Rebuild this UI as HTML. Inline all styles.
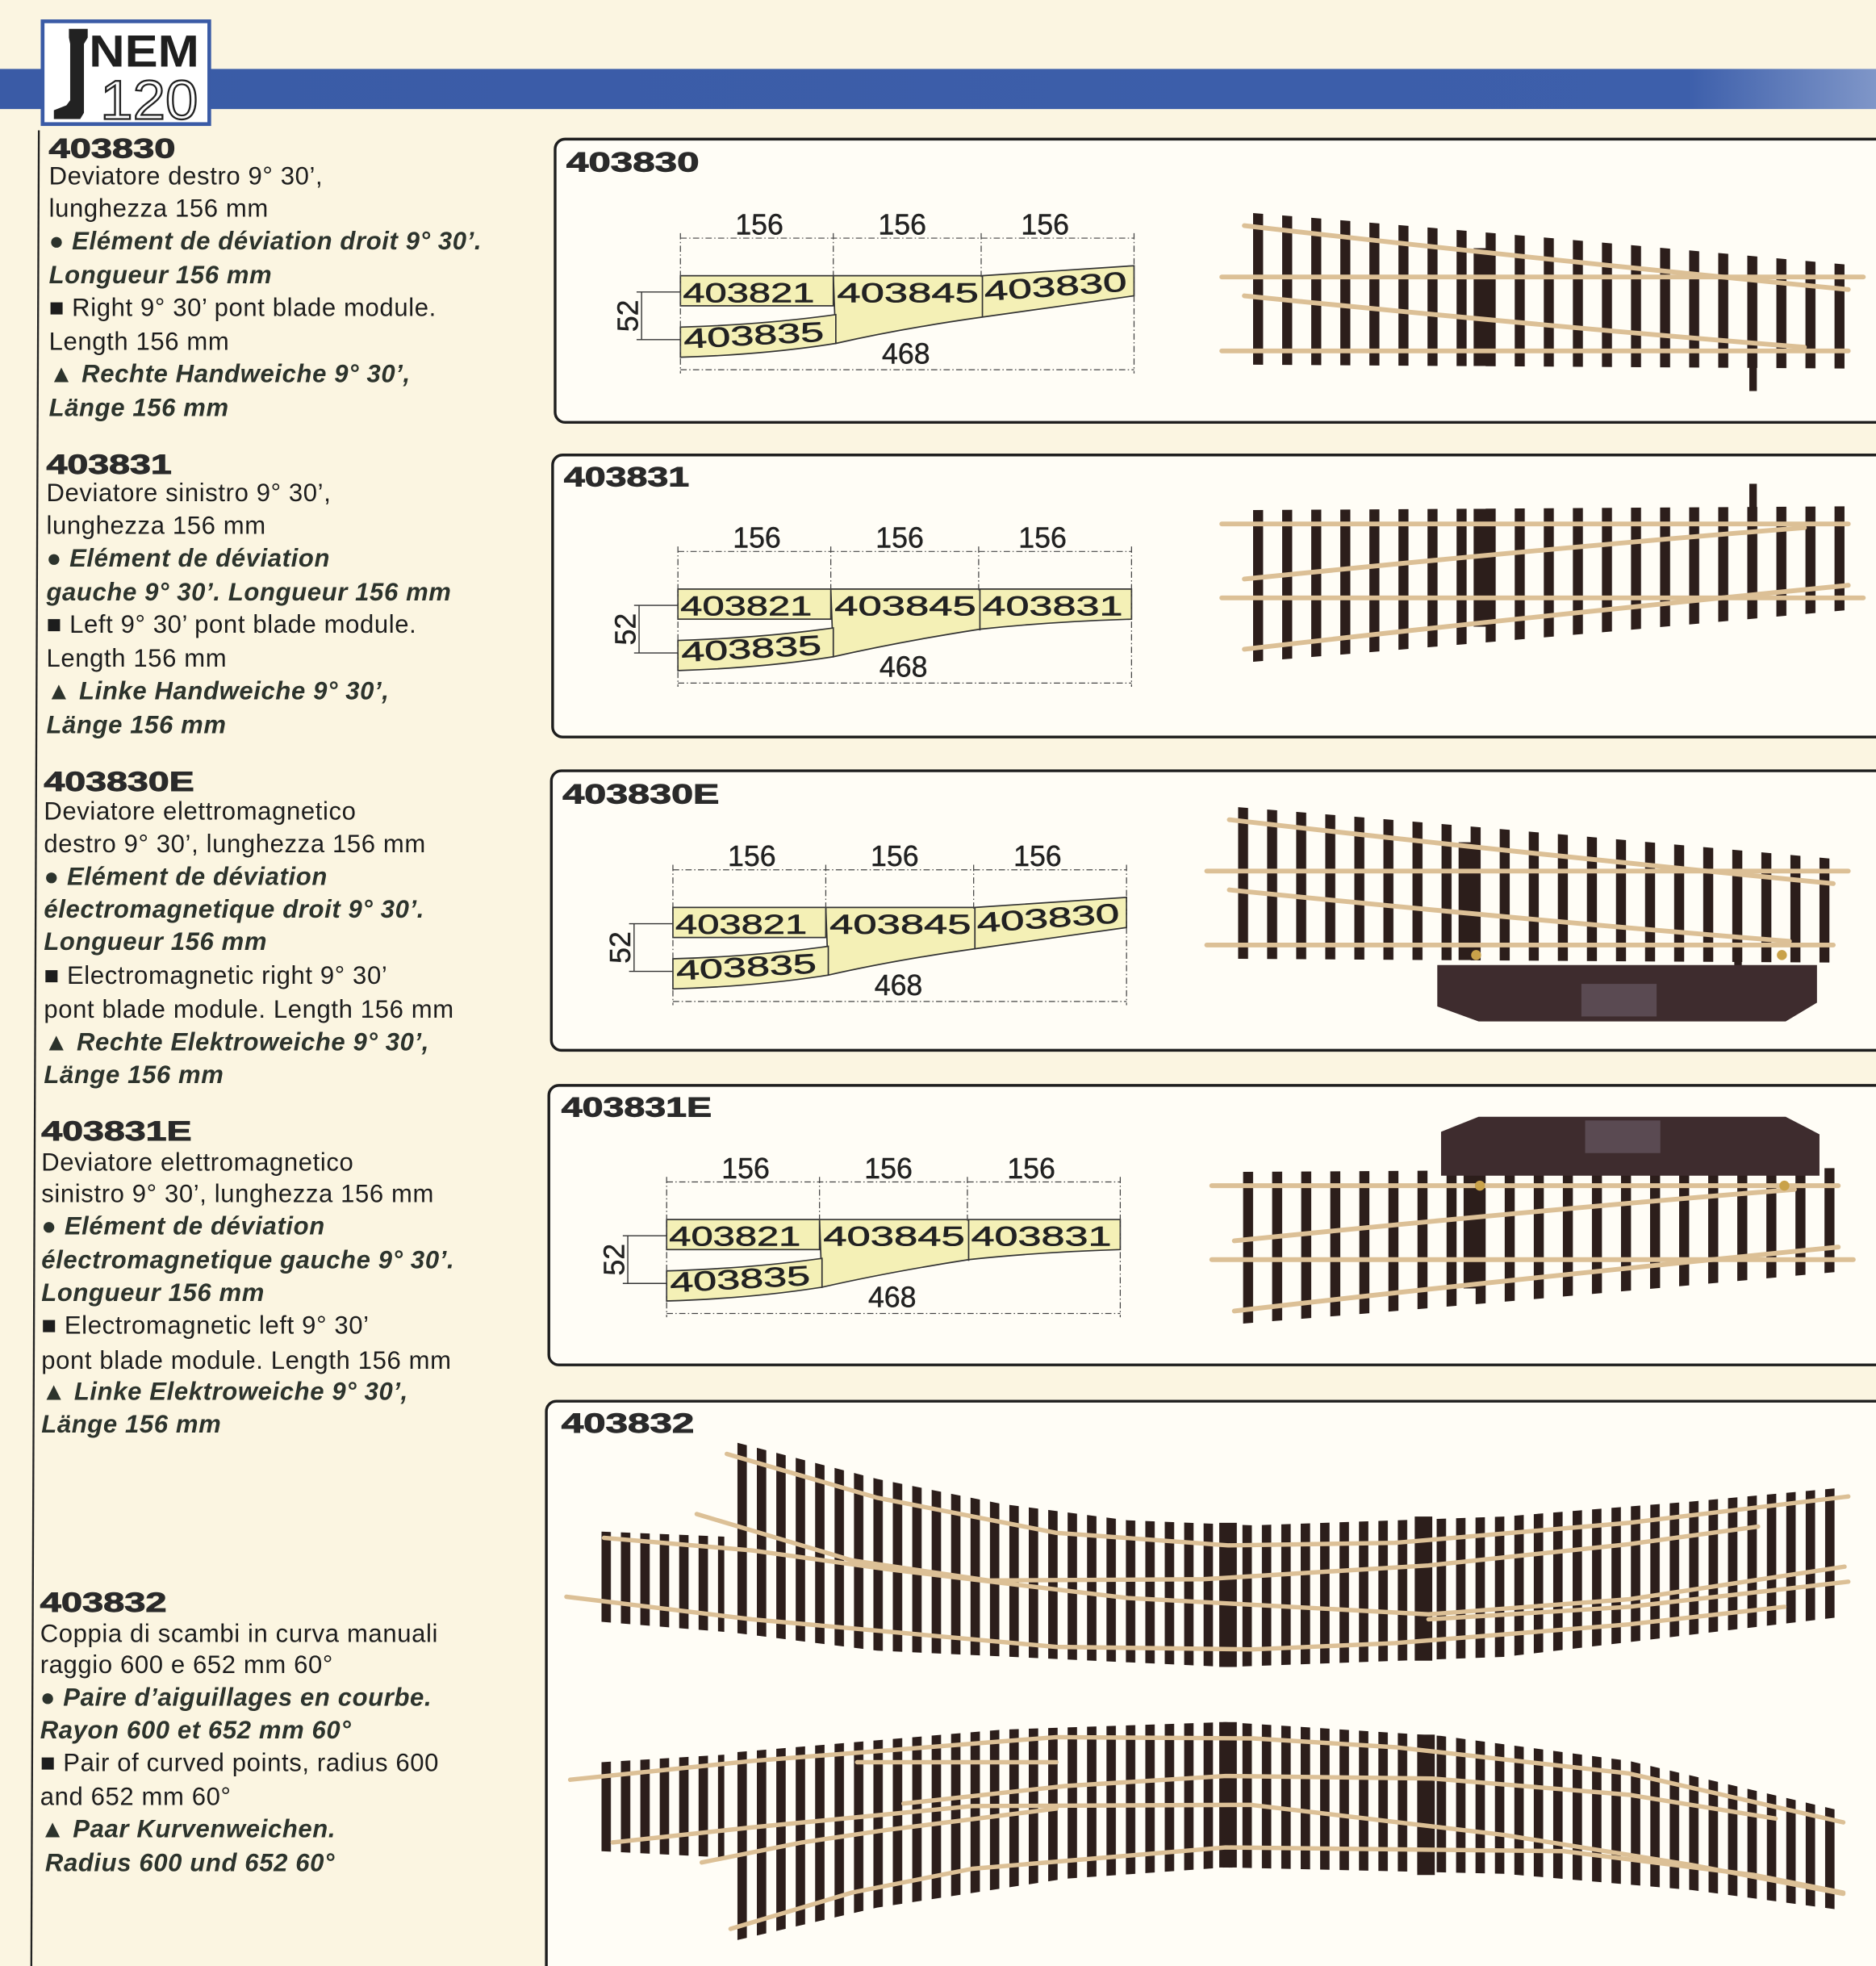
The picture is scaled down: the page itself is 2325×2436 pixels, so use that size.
<!DOCTYPE html>
<html><head><meta charset="utf-8">
<style>
html,body{margin:0;padding:0;background:#fbf5e1;}
svg{display:block;}
.b{font-family:"Liberation Sans",sans-serif;font-size:20px;letter-spacing:0.4px;fill:#1d1d1d;}
.i{font-family:"Liberation Sans",sans-serif;font-size:20px;letter-spacing:0.4px;font-weight:bold;font-style:italic;fill:#2c332c;}
.t{font-family:"Liberation Sans",sans-serif;font-size:22px;font-weight:900;fill:#2a2a2a;stroke:#2a2a2a;stroke-width:0.6;}
.d{font-family:"Liberation Sans",sans-serif;font-size:23px;fill:#222;stroke:#222;stroke-width:0.3;}
.c{font-family:"Liberation Sans",sans-serif;font-size:22px;fill:#222;stroke:#222;stroke-width:0.4;}
</style></head><body>
<svg width="2325" height="2436" viewBox="0 0 1497.1 1568.6" preserveAspectRatio="none" xmlns="http://www.w3.org/2000/svg">
<defs>
<linearGradient id="bl" x1="0" x2="1" y1="0" y2="0">
<stop offset="0" stop-color="#3a5ba6"/><stop offset="0.9" stop-color="#3d5fab"/><stop offset="1" stop-color="#7f96c8"/>
</linearGradient>
<pattern id="tp1" patternUnits="userSpaceOnUse" x="1000" y="0" width="23.2" height="3000"><rect width="8" height="3000" fill="#2c1e1b"/></pattern>
<pattern id="tp2" patternUnits="userSpaceOnUse" x="480" y="0" width="15.5" height="3000"><rect width="7.5" height="3000" fill="#2c1e1b"/></pattern>
<g id="dimR">
 <g stroke="#444" stroke-width="0.8" fill="none" stroke-dasharray="5 2 1 2">
  <line x1="543" y1="186" x2="543" y2="298"/>
  <line x1="665" y1="186" x2="665" y2="221"/>
  <line x1="783" y1="186" x2="783" y2="221"/>
  <line x1="905" y1="186" x2="905" y2="298"/>
  <line x1="543" y1="190" x2="905" y2="190"/>
  <line x1="543" y1="295" x2="905" y2="295"/>
 </g>
 <g stroke="#333" stroke-width="0.9" fill="none">
  <line x1="508" y1="233" x2="543" y2="233"/>
  <line x1="508" y1="271" x2="543" y2="271"/>
  <line x1="512" y1="233" x2="512" y2="271"/>
 </g>
 <text class="d" x="606" y="187" text-anchor="middle">156</text>
 <text class="d" x="720" y="187" text-anchor="middle">156</text>
 <text class="d" x="834" y="187" text-anchor="middle">156</text>
 <text class="d" x="723" y="290" text-anchor="middle">468</text>
 <text class="d" transform="translate(509,252) rotate(-90)" text-anchor="middle">52</text>
</g>
<g id="sw">
 <path d="M1000,170 Q1200,186 1472,211 L1472,294 L1000,291 Z" fill="url(#tp1)"/>
 <rect x="1176" y="198" width="14" height="94" fill="#2c1e1b"/>
 <rect x="1396" y="205" width="6" height="107" fill="#2c1e1b"/>
 <g stroke="#dcc096" stroke-width="3.8" fill="none" stroke-linecap="round">
  <path d="M993,180 Q1200,204 1475,231"/>
  <path d="M975,221 L1487,221"/>
  <path d="M993,236 Q1250,262 1440,277"/>
  <path d="M975,280 L1475,280"/>
 </g>
</g>
</defs>

<!-- header band -->
<rect x="0" y="55" width="1497.1" height="32" fill="url(#bl)"/>
<rect x="34" y="17" width="133" height="82" fill="#fff" stroke="#3a5ba6" stroke-width="3"/>
<path d="M55,23 L70,23 L70,30 L67,35 L67,90 L64,95 L43,95 L43,88 L53,84 L56,80 L56,35 L55,30 Z" fill="#222"/>
<text x="71" y="53" font-family="Liberation Sans,sans-serif" font-weight="bold" font-size="36" fill="#1f1f1f" textLength="88" lengthAdjust="spacingAndGlyphs">NEM</text>
<text x="80" y="95" font-family="Liberation Sans,sans-serif" font-size="44" fill="#fff" stroke="#222" stroke-width="1.4" textLength="78" lengthAdjust="spacingAndGlyphs">120</text>

<!-- left rule -->
<line x1="31" y1="104" x2="25" y2="1568.6" stroke="#222" stroke-width="1.5"/>

<!-- left texts -->
<text class="t" x="39" y="126" textLength="101" lengthAdjust="spacingAndGlyphs">403830</text>
<text class="b" x="39" y="147">Deviatore destro 9° 30’,</text>
<text class="b" x="39" y="173">lunghezza 156 mm</text>
<text class="i" x="39" y="199">● Elément de déviation droit 9° 30’.</text>
<text class="i" x="39" y="226">Longueur 156 mm</text>
<text class="b" x="39" y="252">■ Right 9° 30’ pont blade module.</text>
<text class="b" x="39" y="279">Length 156 mm</text>
<text class="i" x="39" y="305">▲ Rechte Handweiche 9° 30’,</text>
<text class="i" x="39" y="332">Länge 156 mm</text>

<text class="t" x="37" y="378" textLength="100" lengthAdjust="spacingAndGlyphs">403831</text>
<text class="b" x="37" y="400">Deviatore sinistro 9° 30’,</text>
<text class="b" x="37" y="426">lunghezza 156 mm</text>
<text class="i" x="37" y="452">● Elément de déviation</text>
<text class="i" x="37" y="479">gauche 9° 30’. Longueur 156 mm</text>
<text class="b" x="37" y="505">■ Left 9° 30’ pont blade module.</text>
<text class="b" x="37" y="532">Length 156 mm</text>
<text class="i" x="37" y="558">▲ Linke Handweiche 9° 30’,</text>
<text class="i" x="37" y="585">Länge 156 mm</text>

<text class="t" x="35" y="631" textLength="120" lengthAdjust="spacingAndGlyphs">403830E</text>
<text class="b" x="35" y="654">Deviatore elettromagnetico</text>
<text class="b" x="35" y="680">destro 9° 30’, lunghezza 156 mm</text>
<text class="i" x="35" y="706">● Elément de déviation</text>
<text class="i" x="35" y="732">électromagnetique droit 9° 30’.</text>
<text class="i" x="35" y="758">Longueur 156 mm</text>
<text class="b" x="35" y="785">■ Electromagnetic right 9° 30’</text>
<text class="b" x="35" y="812">pont blade module. Length 156 mm</text>
<text class="i" x="35" y="838">▲ Rechte Elektroweiche 9° 30’,</text>
<text class="i" x="35" y="864">Länge 156 mm</text>

<text class="t" x="33" y="910" textLength="120" lengthAdjust="spacingAndGlyphs">403831E</text>
<text class="b" x="33" y="934">Deviatore elettromagnetico</text>
<text class="b" x="33" y="959">sinistro 9° 30’, lunghezza 156 mm</text>
<text class="i" x="33" y="985">● Elément de déviation</text>
<text class="i" x="33" y="1012">électromagnetique gauche 9° 30’.</text>
<text class="i" x="33" y="1038">Longueur 156 mm</text>
<text class="b" x="33" y="1064">■ Electromagnetic left 9° 30’</text>
<text class="b" x="33" y="1092">pont blade module. Length 156 mm</text>
<text class="i" x="33" y="1117">▲ Linke Elektroweiche 9° 30’,</text>
<text class="i" x="33" y="1143">Länge 156 mm</text>

<text class="t" x="32" y="1286" textLength="101" lengthAdjust="spacingAndGlyphs">403832</text>
<text class="b" x="32" y="1310">Coppia di scambi in curva manuali</text>
<text class="b" x="32" y="1335">raggio 600 e 652 mm 60°</text>
<text class="i" x="32" y="1361">● Paire d’aiguillages en courbe.</text>
<text class="i" x="32" y="1387">Rayon 600 et 652 mm 60°</text>
<text class="b" x="32" y="1413">■ Pair of curved points, radius 600</text>
<text class="b" x="32" y="1440">and 652 mm 60°</text>
<text class="i" x="32" y="1466">▲ Paar Kurvenweichen.</text>
<text class="i" x="36" y="1493">Radius 600 und 652 60°</text>

<!-- panels -->
<g fill="#fffdf6" stroke="#1e1e1e" stroke-width="2.2">
<rect x="443" y="111" width="1080" height="226" rx="8"/>
<rect x="441" y="363" width="1080" height="225" rx="8"/>
<rect x="440" y="615" width="1080" height="223" rx="8"/>
<rect x="438" y="866" width="1080" height="223" rx="8"/>
<rect x="436" y="1118" width="1080" height="480" rx="8"/>
</g>
<text class="t" x="452" y="137" textLength="106" lengthAdjust="spacingAndGlyphs">403830</text>
<text class="t" x="450" y="388" textLength="100" lengthAdjust="spacingAndGlyphs">403831</text>
<text class="t" x="449" y="641" textLength="125" lengthAdjust="spacingAndGlyphs">403830E</text>
<text class="t" x="448" y="891" textLength="120" lengthAdjust="spacingAndGlyphs">403831E</text>
<text class="t" x="448" y="1143" textLength="106" lengthAdjust="spacingAndGlyphs">403832</text>

<!-- diagram P1 (right) -->
<g>
 <g fill="#f4f0b6" stroke="#333" stroke-width="1.1">
  <path d="M665,220 L784,220 L905,212 L905,236 L784,253 Q720,262 667,274 Z"/>
  <rect x="543" y="220" width="122" height="24"/>
  <path d="M543,261 Q610,259 667,251 L667,274 Q610,283 543,285 Z"/>
  <line x1="784" y1="220" x2="784" y2="253"/>
 </g>
 <use href="#dimR"/>
 <text class="c" x="545" y="241" textLength="105" lengthAdjust="spacingAndGlyphs">403821</text>
 <text class="c" x="668" y="241" textLength="113" lengthAdjust="spacingAndGlyphs">403845</text>
 <text class="c" x="786" y="240" textLength="114" lengthAdjust="spacingAndGlyphs" transform="rotate(-4 786 240)">403830</text>
 <text class="c" x="546" y="278" textLength="112" lengthAdjust="spacingAndGlyphs" transform="rotate(-3 546 278)">403835</text>
</g>
<!-- diagram P2 (left) -->
<g transform="translate(-2,250)">
 <g fill="#f4f0b6" stroke="#333" stroke-width="1.1">
  <path d="M665,220 L905,220 L905,244 Q840,246 784,252 Q720,262 667,274 Z"/>
  <rect x="543" y="220" width="122" height="24"/>
  <path d="M543,261 Q610,259 667,251 L667,274 Q610,283 543,285 Z"/>
  <line x1="784" y1="220" x2="784" y2="253"/>
 </g>
 <use href="#dimR"/>
 <text class="c" x="545" y="241" textLength="105" lengthAdjust="spacingAndGlyphs">403821</text>
 <text class="c" x="668" y="241" textLength="113" lengthAdjust="spacingAndGlyphs">403845</text>
 <text class="c" x="786" y="241" textLength="112" lengthAdjust="spacingAndGlyphs">403831</text>
 <text class="c" x="546" y="278" textLength="112" lengthAdjust="spacingAndGlyphs" transform="rotate(-3 546 278)">403835</text>
</g>
<!-- diagram P3 (right) -->
<g transform="translate(-6,504)">
 <g fill="#f4f0b6" stroke="#333" stroke-width="1.1">
  <path d="M665,220 L784,220 L905,212 L905,236 L784,253 Q720,262 667,274 Z"/>
  <rect x="543" y="220" width="122" height="24"/>
  <path d="M543,261 Q610,259 667,251 L667,274 Q610,283 543,285 Z"/>
  <line x1="784" y1="220" x2="784" y2="253"/>
 </g>
 <use href="#dimR"/>
 <text class="c" x="545" y="241" textLength="105" lengthAdjust="spacingAndGlyphs">403821</text>
 <text class="c" x="668" y="241" textLength="113" lengthAdjust="spacingAndGlyphs">403845</text>
 <text class="c" x="786" y="240" textLength="114" lengthAdjust="spacingAndGlyphs" transform="rotate(-4 786 240)">403830</text>
 <text class="c" x="546" y="278" textLength="112" lengthAdjust="spacingAndGlyphs" transform="rotate(-3 546 278)">403835</text>
</g>
<!-- diagram P4 (left) -->
<g transform="translate(-11,753)">
 <g fill="#f4f0b6" stroke="#333" stroke-width="1.1">
  <path d="M665,220 L905,220 L905,244 Q840,246 784,252 Q720,262 667,274 Z"/>
  <rect x="543" y="220" width="122" height="24"/>
  <path d="M543,261 Q610,259 667,251 L667,274 Q610,283 543,285 Z"/>
  <line x1="784" y1="220" x2="784" y2="253"/>
 </g>
 <use href="#dimR"/>
 <text class="c" x="545" y="241" textLength="105" lengthAdjust="spacingAndGlyphs">403821</text>
 <text class="c" x="668" y="241" textLength="113" lengthAdjust="spacingAndGlyphs">403845</text>
 <text class="c" x="786" y="241" textLength="112" lengthAdjust="spacingAndGlyphs">403831</text>
 <text class="c" x="546" y="278" textLength="112" lengthAdjust="spacingAndGlyphs" transform="rotate(-3 546 278)">403835</text>
</g>

<!-- straight turnout photos -->
<use href="#sw"/>
<use href="#sw" transform="translate(0,698) scale(1,-1)"/>
<use href="#sw" transform="translate(-12,474)"/>
<use href="#sw" transform="translate(-8,1226) scale(1,-1)"/>
<!-- motors -->
<g fill="#3e2c2e">
 <path d="M1147,770 L1450,770 L1450,800 L1425,815 L1180,815 L1147,803 Z"/>
 <path d="M1150,938 L1452,938 L1452,905 L1425,891 L1180,891 L1150,903 Z"/>
</g>
<g fill="#5a4a52">
 <rect x="1262" y="785" width="60" height="26"/>
 <rect x="1265" y="894" width="60" height="26"/>
</g>
<g fill="#c9a24a"><circle cx="1178" cy="762" r="4"/><circle cx="1422" cy="762" r="4"/><circle cx="1181" cy="946" r="4"/><circle cx="1424" cy="946" r="4"/></g>

<!-- curved turnouts -->
<g fill="url(#tp2)">
 <polygon points="480,1222 578,1226 578,1302 480,1294"/>
 <polygon points="588,1151 700,1180 800,1200 900,1213 1000,1217 1200,1210 1350,1198 1470,1187 1470,1290 1200,1322 980,1330 700,1317 588,1303"/>
 <polygon points="480,1406 578,1400 578,1482 480,1477"/>
 <polygon points="588,1398 800,1380 978,1374 1150,1385 1300,1405 1470,1445 1470,1524 1350,1508 1200,1495 978,1490 850,1499 700,1522 588,1548"/>
</g>
<g fill="#2c1e1b">
 <rect x="973" y="1215" width="14" height="115"/>
 <rect x="1129" y="1210" width="14" height="115"/>
 <rect x="973" y="1374" width="14" height="116"/>
 <rect x="1131" y="1384" width="14" height="112"/>
</g>
<g stroke="#dcc096" stroke-width="3.5" fill="none" stroke-linecap="round" stroke-linejoin="round">
 <polyline points="580,1160 700,1195 843,1223 980,1233 1113,1231 1300,1215 1475,1194"/>
 <polyline points="556,1208 680,1245 789,1261 960,1260 1140,1249 1300,1232 1403,1218"/>
 <polyline points="482,1227 600,1237 708,1252 900,1275 1140,1288 1300,1276 1472,1250"/>
 <polyline points="452,1274 600,1292 843,1314 1000,1316 1113,1311 1300,1296 1424,1282"/>
 <polyline points="1140,1292 1300,1282 1475,1262"/>
 <polyline points="455,1420 600,1405 843,1386 1000,1387 1113,1394 1300,1415 1471,1454"/>
 <polyline points="684,1406 843,1406"/>
 <polyline points="721,1439 850,1425 978,1417 1143,1419 1300,1432 1417,1451"/>
 <polyline points="489,1470 600,1458 776,1441 998,1440 1200,1464 1350,1488 1471,1511"/>
 <polyline points="560,1486 640,1470 708,1460 843,1443"/>
 <polyline points="583,1539 680,1510 776,1491 978,1474 1248,1477 1400,1496 1471,1510"/>
</g>
</svg>
</body></html>
